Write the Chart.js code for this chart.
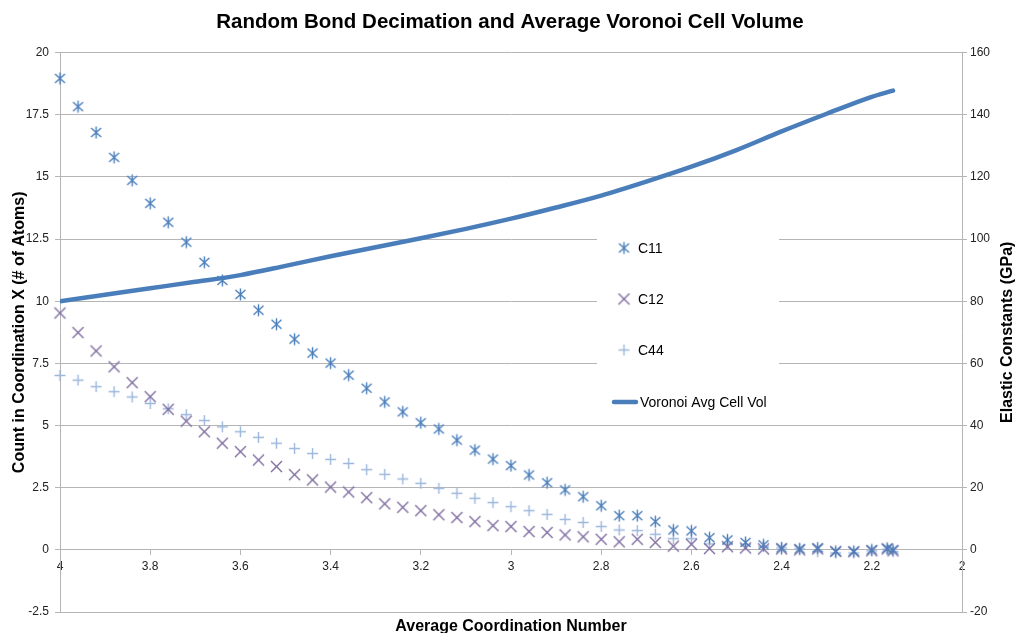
<!DOCTYPE html>
<html lang="en">
<head>
<meta charset="UTF-8">
<title>Random Bond Decimation and Average Voronoi Cell Volume</title>
<script src="https://cdn.jsdelivr.net/npm/chart.js"></script>
<style>
  html, body { margin: 0; padding: 0; background: #fff; }
  #wrap { width: 1020px; height: 633px; }
</style>
</head>
<body>
<div id="wrap"><canvas id="chart" width="1020" height="633"></canvas></div>
<script>
// average coordination number of each decimation step
const coordination = [4.00, 3.96, 3.92, 3.88, 3.84, 3.80, 3.76, 3.72, 3.68, 3.64,
  3.60, 3.56, 3.52, 3.48, 3.44, 3.40, 3.36, 3.32, 3.28, 3.24,
  3.20, 3.16, 3.12, 3.08, 3.04, 3.00, 2.96, 2.92, 2.88, 2.84,
  2.80, 2.76, 2.72, 2.68, 2.64, 2.60, 2.56, 2.52, 2.48, 2.44,
  2.40, 2.36, 2.32, 2.28, 2.24, 2.20, 2.166, 2.153];

// elastic constants (GPa)
const c11 = [151.7, 142.6, 134.3, 126.3, 118.9, 111.5, 105.4, 99.0, 92.5, 86.7,
  82.2, 77.1, 72.6, 67.8, 63.3, 60.1, 56.2, 52.0, 47.6, 44.4,
  40.9, 38.9, 35.3, 32.1, 29.2, 27.1, 24.1, 21.6, 19.3, 17.1,
  14.2, 11.0, 11.0, 9.1, 6.4, 6.1, 3.9, 3.2, 2.4, 1.6,
  0.6, 0.3, 0.6, -0.5, -0.5, 0.0, 0.5, 0.0];
const c12 = [76.2, 69.9, 64.0, 58.9, 53.8, 49.3, 45.2, 41.4, 38.0, 34.3,
  31.6, 28.9, 26.8, 24.2, 22.5, 20.2, 18.6, 16.8, 14.8, 13.7,
  12.6, 11.3, 10.4, 9.1, 7.8, 7.5, 5.9, 5.6, 4.8, 4.2,
  3.4, 2.6, 3.4, 2.4, 1.2, 1.8, 0.4, 1.0, 0.6, 0.3,
  0.3, 0.0, 0.3, -0.5, -0.6, -0.3, 0.3, -0.3];
const c44 = [56.1, 54.6, 52.5, 50.9, 49.2, 47.1, 45.4, 43.5, 41.6, 39.6,
  38.0, 36.2, 34.3, 32.6, 31.0, 29.1, 27.8, 25.8, 24.3, 22.8,
  21.4, 19.8, 18.2, 16.6, 15.2, 13.9, 12.6, 11.4, 9.8, 8.8,
  7.5, 6.4, 6.2, 5.0, 3.6, 3.6, 1.9, 1.9, 1.6, 1.0,
  0.6, 0.3, -0.6, -1.0, -1.0, -0.3, 0.2, -0.6];

// voronoi average cell volume (left axis)
const volCoord = [4.0, 3.9, 3.8, 3.7, 3.6, 3.5, 3.4, 3.3, 3.2, 3.1,
  3.0, 2.9, 2.8, 2.7, 2.6, 2.5, 2.4, 2.3, 2.2, 2.153];
const voronoiVol = [10.0, 10.26, 10.52, 10.78, 11.05, 11.42, 11.81, 12.17, 12.53, 12.91,
  13.32, 13.77, 14.25, 14.81, 15.41, 16.08, 16.83, 17.54, 18.22, 18.47];

const xTicks = [4, 3.8, 3.6, 3.4, 3.2, 3, 2.8, 2.6, 2.4, 2.2, 2];
const countTicks = [20, 17.5, 15, 12.5, 10, 7.5, 5, 2.5, 0, -2.5];
const gpaTicks = [160, 140, 120, 100, 80, 60, 40, 20, 0, -20];

const FAMILY = '"Liberation Sans", Arial, Helvetica, sans-serif';
const gridColor = '#b5b5b5';
const tickFont = { family: FAMILY, size: 12 };
const axisTitleFont = { family: FAMILY, size: 16, weight: 'bold' };

// excel-like marker glyphs
function marker(kind, color) {
  const c = document.createElement('canvas');
  c.width = c.height = 15;
  const g = c.getContext('2d');
  g.strokeStyle = color;
  g.lineWidth = 1.4;
  g.translate(7.5, 7.5);
  g.beginPath();
  if (kind === 'star') {
    g.moveTo(-5, -4.5); g.lineTo(5, 4.5);
    g.moveTo(-5, 4.5); g.lineTo(5, -4.5);
    g.moveTo(0, -6); g.lineTo(0, 6);
  } else if (kind === 'x') {
    g.moveTo(-5.5, -5.5); g.lineTo(5.5, 5.5);
    g.moveTo(-5.5, 5.5); g.lineTo(5.5, -5.5);
  } else {
    g.moveTo(-5.5, 0); g.lineTo(5.5, 0);
    g.moveTo(0, -5.5); g.lineTo(0, 5.5);
  }
  g.stroke();
  return c;
}

const colC11 = '#4a7ebb', colC12 = '#7d6b9e', colC44 = '#9db7dc', colVol = '#4a7ebb';
const mC11 = marker('star', colC11);
const mC12 = marker('x', colC12);
const mC44 = marker('plus', colC44);

const pts = (xs, ys) => xs.map((x, i) => ({ x: x, y: ys[i] }));

// legend box sitting inside the plot, hiding the grid behind it
const boxLegend = {
  id: 'boxLegend',
  beforeDatasetsDraw(chart) {
    const ctx = chart.ctx;
    ctx.save();
    ctx.fillStyle = '#fff';
    ctx.fillRect(597, 224, 182, 194);
    ctx.font = '14px ' + FAMILY;
    ctx.fillStyle = '#000';
    ctx.textBaseline = 'middle';
    const rows = [[mC11, 'C11', 248], [mC12, 'C12', 299], [mC44, 'C44', 350]];
    rows.forEach(r => {
      ctx.drawImage(r[0], 624 - 7.5, r[2] - 7.5);
      ctx.fillText(r[1], 638, r[2] + 1);
    });
    ctx.strokeStyle = colVol;
    ctx.lineWidth = 4.5;
    ctx.lineCap = 'round';
    ctx.beginPath();
    ctx.moveTo(614, 402);
    ctx.lineTo(636, 402);
    ctx.stroke();
    ctx.fillText('Voronoi Avg Cell Vol', 640, 403);
    ctx.restore();
  },
  // right axis title reads bottom-to-top like the left one
  afterDraw(chart) {
    const ctx = chart.ctx;
    const area = chart.chartArea;
    ctx.save();
    ctx.translate(1008, (area.top + area.bottom) / 2);
    ctx.rotate(-Math.PI / 2);
    ctx.font = 'bold 16px ' + FAMILY;
    ctx.fillStyle = '#000';
    ctx.textAlign = 'center';
    ctx.textBaseline = 'middle';
    ctx.fillText('Elastic Constants (GPa)', 0, 0);
    ctx.restore();
  }
};

new Chart(document.getElementById('chart'), {
  type: 'scatter',
  data: {
    datasets: [
      {
        label: 'C11', data: pts(coordination, c11), yAxisID: 'y1',
        pointStyle: mC11, pointRadius: 5, clip: false
      },
      {
        label: 'C12', data: pts(coordination, c12), yAxisID: 'y1',
        pointStyle: mC12, pointRadius: 5, clip: false
      },
      {
        label: 'C44', data: pts(coordination, c44), yAxisID: 'y1',
        pointStyle: mC44, pointRadius: 5, clip: false
      },
      {
        type: 'line', label: 'Voronoi Avg Cell Vol', data: pts(volCoord, voronoiVol),
        yAxisID: 'y', showLine: true, borderColor: colVol, borderWidth: 4.5,
        pointRadius: 0, cubicInterpolationMode: 'monotone', borderCapStyle: 'round'
      }
    ]
  },
  options: {
    responsive: false,
    animation: false,
    layout: { padding: 0 },
    plugins: {
      legend: { display: false },
      tooltip: { enabled: false },
      title: {
        display: true,
        text: 'Random Bond Decimation and Average Voronoi Cell Volume',
        color: '#000',
        font: { family: FAMILY, size: 20.5, weight: 'bold' },
        padding: { top: 10, bottom: 18 }
      }
    },
    scales: {
      x: {
        type: 'linear', position: { y: 0 }, min: 2, max: 4, reverse: true,
        afterBuildTicks: s => { s.ticks = xTicks.map(v => ({ value: v })); },
        afterFit: s => { s.height = 0; },
        grid: { drawOnChartArea: false, color: gridColor, tickLength: 5 },
        border: { color: gridColor },
        ticks: { font: tickFont, color: '#222', padding: 5, maxRotation: 0, autoSkip: false, callback: v => String(v) }
      },
      x2: {
        type: 'linear', position: 'bottom', min: 2, max: 4, reverse: true,
        afterFit: s => { s.height = 21; },
        grid: { display: false },
        border: { display: false },
        ticks: { display: false },
        title: { display: true, text: 'Average Coordination Number', color: '#000', font: axisTitleFont, padding: { top: 0, bottom: -3 } }
      },
      y: {
        position: 'left', min: -2.5, max: 20,
        afterBuildTicks: s => { s.ticks = countTicks.map(v => ({ value: v })); },
        afterFit: s => { s.width = 60; },
        grid: { color: gridColor, tickLength: 5 },
        border: { color: gridColor },
        ticks: { font: tickFont, color: '#222', padding: 6, callback: v => String(v) },
        title: { display: true, text: 'Count in Coordination X (# of Atoms)', color: '#000', font: axisTitleFont, padding: { top: 10, bottom: 0 } }
      },
      y1: {
        position: 'right', min: -20, max: 160,
        afterBuildTicks: s => { s.ticks = gpaTicks.map(v => ({ value: v })); },
        afterFit: s => { s.width = 58; },
        grid: { drawOnChartArea: false, color: gridColor, tickLength: 5 },
        border: { color: gridColor },
        ticks: { font: tickFont, color: '#222', padding: 3, callback: v => String(v) },
        title: { display: false }
      }
    }
  },
  plugins: [boxLegend]
});
</script>
</body>
</html>
